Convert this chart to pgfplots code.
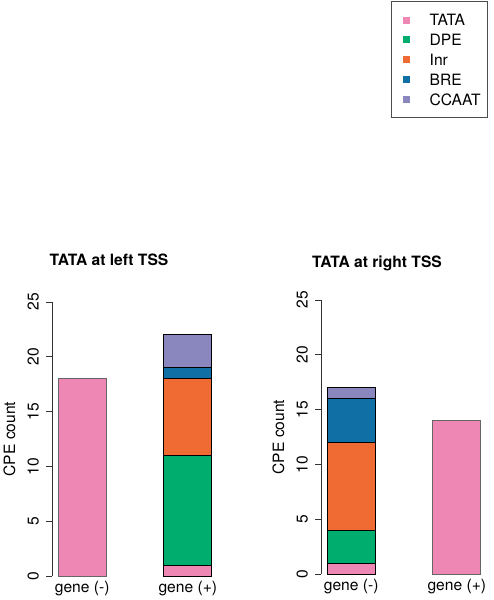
\documentclass[border=0pt]{standalone}
\usepackage{fontspec}
\setmainfont{TeX Gyre Heros}
\usepackage{pgfplots}
\pgfplotsset{compat=1.18}
\definecolor{cTATA}{RGB}{239,135,180}
\definecolor{cDPE}{RGB}{0,173,110}
\definecolor{cInr}{RGB}{240,106,52}
\definecolor{cBRE}{RGB}{16,111,165}
\definecolor{cCCAAT}{RGB}{138,135,191}
\newcommand\fs{\fontsize{15.6pt}{18pt}\selectfont}
\pgfplotsset{
 base/.style={scale only axis, width=166pt, height=274pt, xmin=1.072, xmax=4.528,
   ymin=0, ymax=25, bar width=48pt, clip=false,
   /pgf/number format/assume math mode=true, font=\fs},
 main/.style={base, ybar, axis lines*=left, x axis line style={draw=none},
   xtick={1.7,3.9}, xticklabels={gene (-),gene (+)}, xtick style={draw=none},
   ytick={0,5,...,25}, tick align=outside, major tick length=6pt,
   y axis line style={black!80, line width=0.8pt},
   ytick style={black!80, line width=0.8pt},
   yticklabel style={rotate=90, anchor=south, inner sep=2pt, inner ysep=7pt},
   ylabel={CPE count},
   ylabel style={at={(axis description cs:-0.257,0.5)}, anchor=center},
   xticklabel style={anchor=north, inner sep=0pt, yshift=1pt}},
 over/.style={base, ybar stacked, hide axis},
 sbar/.style={fill=#1, draw=black, line width=0.8pt},
 single/.style={fill=cTATA, draw=black!60, line width=0.8pt},
 sq/.style={legend image code/.code={\path[draw=none, fill=none] (-5pt,-3.5pt) rectangle (7pt,3.5pt);
      \path[fill=#1, draw=none] (0pt,-3.5pt) rectangle (7pt,3.5pt);}},
}
\begin{document}
\fs
\begin{tikzpicture}[font=\fs]
\useasboundingbox (0,0) rectangle (493pt,600pt);
% left panel
\begin{axis}[main, at={(52pt,24pt)}, anchor=south west]
\addplot[single] coordinates {(1.7,18)};
\end{axis}
\begin{axis}[over, at={(52pt,24pt)}, anchor=south west]
\addplot[sbar=cTATA] coordinates {(3.9,1)};
\addplot[sbar=cDPE] coordinates {(3.9,10)};
\addplot[sbar=cInr] coordinates {(3.9,7)};
\addplot[sbar=cBRE] coordinates {(3.9,1)};
\addplot[sbar=cCCAAT] coordinates {(3.9,3)};
\end{axis}
% right panel
\begin{axis}[main, at={(321pt,26pt)}, anchor=south west]
\addplot[single] coordinates {(3.9,14)};
\end{axis}
\begin{axis}[over, at={(321pt,26pt)}, anchor=south west]
\addplot[sbar=cTATA] coordinates {(1.7,1)};
\addplot[sbar=cDPE] coordinates {(1.7,3)};
\addplot[sbar=cInr] coordinates {(1.7,8)};
\addplot[sbar=cBRE] coordinates {(1.7,4)};
\addplot[sbar=cCCAAT] coordinates {(1.7,1)};
\end{axis}
% legend
\begin{axis}[base, hide axis, at={(321pt,26pt)}, anchor=south west,
  legend style={at={(axis description cs:1.006,2.090)}, anchor=north east,
    draw=black!70, line width=0.8pt, inner xsep=7pt, inner ysep=12.7pt,
    row sep=8.65pt, column sep=19.4pt, font=\fs,
    nodes={inner sep=0pt, text height=11.2pt, text depth=0pt}},
  legend cell align=left]
\addlegendimage{sq=cTATA}
\addlegendimage{sq=cDPE}
\addlegendimage{sq=cInr}
\addlegendimage{sq=cBRE}
\addlegendimage{sq=cCCAAT}
\legend{TATA,DPE,Inr,BRE,CCAAT}
\end{axis}
\node[font=\fs\bfseries] at (109pt,340pt) {TATA at left TSS};
\node[font=\fs\bfseries] at (377pt,337pt) {TATA at right TSS};
\end{tikzpicture}
\end{document}
